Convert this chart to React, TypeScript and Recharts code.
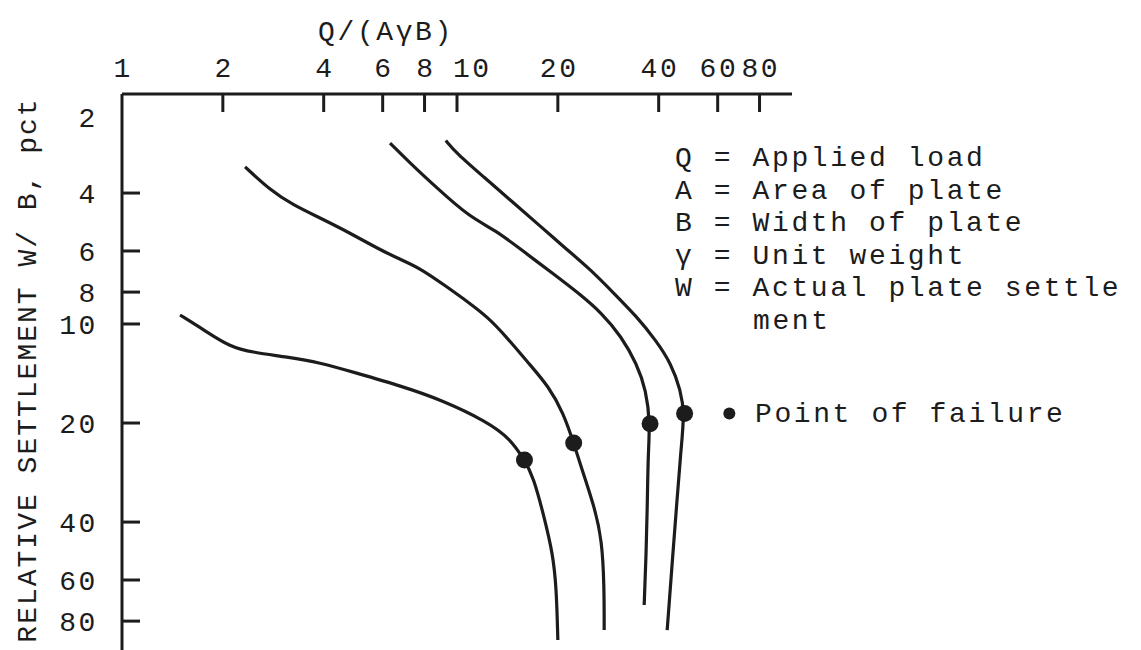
import React from "react";
import {
  ComposedChart,
  Line,
  Scatter,
  XAxis,
  YAxis,
  ReferenceDot,
} from "recharts";

// Q/(AγB), with relative settlement W/B (pct)
const qTicks = [1, 2, 4, 6, 8, 10, 20, 40, 60, 80];
const wTicks = [2, 4, 6, 8, 10, 20, 40, 60, 80];

const curve1Q = [1.49, 1.75, 2.1, 2.46, 3.11, 3.9, 4.89, 6.9, 8.97, 12.3, 14.4, 15.9, 16.9, 18.3, 19.3, 19.8, 20.0];
const curve1W = [9.39, 10.4, 11.75, 12.2, 12.6, 13.1, 14.0, 15.5, 17.0, 19.8, 22.3, 25.9, 29.1, 39.4, 49.8, 62.9, 91.3];

const curve2Q = [2.33, 2.77, 3.24, 3.9, 4.79, 5.77, 6.62, 7.76, 9.34, 10.9, 12.3, 14.0, 16.4, 18.8, 20.8, 22.3, 23.8, 25.7, 27.1, 27.5, 27.5];
const curve2W = [3.33, 3.92, 4.35, 4.76, 5.29, 5.88, 6.3, 6.76, 7.72, 8.64, 9.5, 10.9, 13.2, 15.5, 18.7, 23.0, 28.4, 35.9, 45.4, 62.9, 85.2];

const curve3Q = [6.31, 7.24, 8.71, 10.9, 13.0, 15.6, 19.3, 23.1, 27.1, 30.9, 34.4, 36.7, 37.7, 37.2, 37.0, 36.7, 36.2];
const curve3W = [2.82, 3.24, 3.86, 4.73, 5.18, 5.96, 7.02, 8.07, 9.28, 10.9, 13.2, 15.9, 20.1, 24.7, 35.1, 49.8, 71.5];

const curve4Q = [9.26, 9.97, 12.0, 14.8, 17.8, 20.8, 25.1, 29.4, 34.4, 39.2, 43.6, 46.5, 47.8, 46.5, 45.3, 44.1, 43.0, 42.4];
const curve4W = [2.77, 3.03, 3.57, 4.3, 5.06, 5.82, 6.85, 8.07, 9.5, 11.2, 13.2, 15.9, 18.7, 24.7, 35.1, 49.8, 70.6, 85.2];

const failureQ = [15.9, 22.3, 37.7, 47.8];
const failureW = [25.9, 23.0, 20.1, 18.7];

const legendLines = [
  "Q = Applied load",
  "A = Area of plate",
  "B = Width of plate",
  "γ = Unit weight",
  "W = Actual plate settle",
  "ment",
];

const INK = "#1c1c1c";
const FONT = "'Liberation Mono', 'DejaVu Sans Mono', monospace";
const FS = 28;
const LS = 2.6; // typewriter pitch is wider than the mono font at this size

function zip(q: number[], w: number[]) {
  return q.map((v, i) => ({ q: v, w: w[i] }));
}

const curves = [
  zip(curve1Q, curve1W),
  zip(curve2Q, curve2W),
  zip(curve3Q, curve3W),
  zip(curve4Q, curve4W),
];
const failures = zip(failureQ, failureW);

function QTick(props: any) {
  const { x, y, payload } = props;
  const v = payload.value;
  return (
    <g>
      {v !== 1 && (
        <line x1={x} y1={y} x2={x} y2={y + 18} stroke={INK} strokeWidth={3} />
      )}
      <text
        x={x + (v === 10 ? 14 : 0) + LS / 2}
        y={y - 17}
        textAnchor="middle"
        fontFamily={FONT}
        fontSize={FS}
        letterSpacing={LS}
        fill={INK}
      >
        {v}
      </text>
    </g>
  );
}

function WTick(props: any) {
  const { x, y, payload } = props;
  const v = payload.value;
  return (
    <g>
      {v !== 2 && (
        <line x1={x} y1={y} x2={x + 18} y2={y} stroke={INK} strokeWidth={3} />
      )}
      <text
        x={x - 24}
        y={y + (v === 2 ? 23 : 0)}
        dy="0.35em"
        textAnchor="end"
        fontFamily={FONT}
        fontSize={FS}
        letterSpacing={LS}
        fill={INK}
      >
        {v}
      </text>
    </g>
  );
}

export default function App() {
  return (
    <div
      style={{
        position: "fixed",
        left: 0,
        top: 0,
        width: 1141,
        height: 650,
        overflow: "hidden",
        background: "#fff",
      }}
    >
      <ComposedChart
        width={1141}
        height={660}
        margin={{ top: 0, right: 349, bottom: 7, left: 0 }}
      >
        <XAxis
          xAxisId={0}
          type="number"
          dataKey="q"
          orientation="top"
          scale="log"
          domain={[1, 100]}
          allowDataOverflow
          ticks={qTicks}
          height={94}
          tickSize={0}
          tickMargin={0}
          tickLine={false}
          tick={QTick}
          axisLine={{ stroke: INK, strokeWidth: 3 }}
        />
        <YAxis
          yAxisId={0}
          type="number"
          dataKey="w"
          scale="log"
          domain={[2, 100]}
          allowDataOverflow
          reversed
          ticks={wTicks}
          width={122}
          tickSize={0}
          tickMargin={0}
          tickLine={false}
          tick={WTick}
          axisLine={{ stroke: INK, strokeWidth: 3 }}
        />
        {curves.map((c, i) => (
          <Line
            key={i}
            data={c}
            dataKey="w"
            type="basis"
            stroke={INK}
            strokeWidth={3.2}
            dot={false}
            isAnimationActive={false}
          />
        ))}
        <Scatter
          data={failures}
          dataKey="w"
          isAnimationActive={false}
          shape={(p: any) => <circle cx={p.cx} cy={p.cy} r={8.5} fill={INK} />}
        />
        <ReferenceDot x={65} y={18.7} r={6} fill={INK} stroke="none" />
      </ComposedChart>

      <svg
        width={1141}
        height={650}
        style={{ position: "absolute", left: 0, top: 0, pointerEvents: "none" }}
        fontFamily={FONT}
        fontSize={FS}
        letterSpacing={LS}
        fill={INK}
      >
        <text x={386} y={40} textAnchor="middle">
          Q/(AγB)
        </text>
        <text
          transform="translate(36,370) rotate(-90)"
          textAnchor="middle"
          letterSpacing={2}
        >
          RELATIVE SETTLEMENT W/ B, pct
        </text>
        {legendLines.map((s, i) => (
          <text key={i} x={i === 5 ? 753 : 675} y={166 + i * 32.5}>
            {s}
          </text>
        ))}
        <text x={755} y={422}>
          Point of failure
        </text>
      </svg>
    </div>
  );
}
